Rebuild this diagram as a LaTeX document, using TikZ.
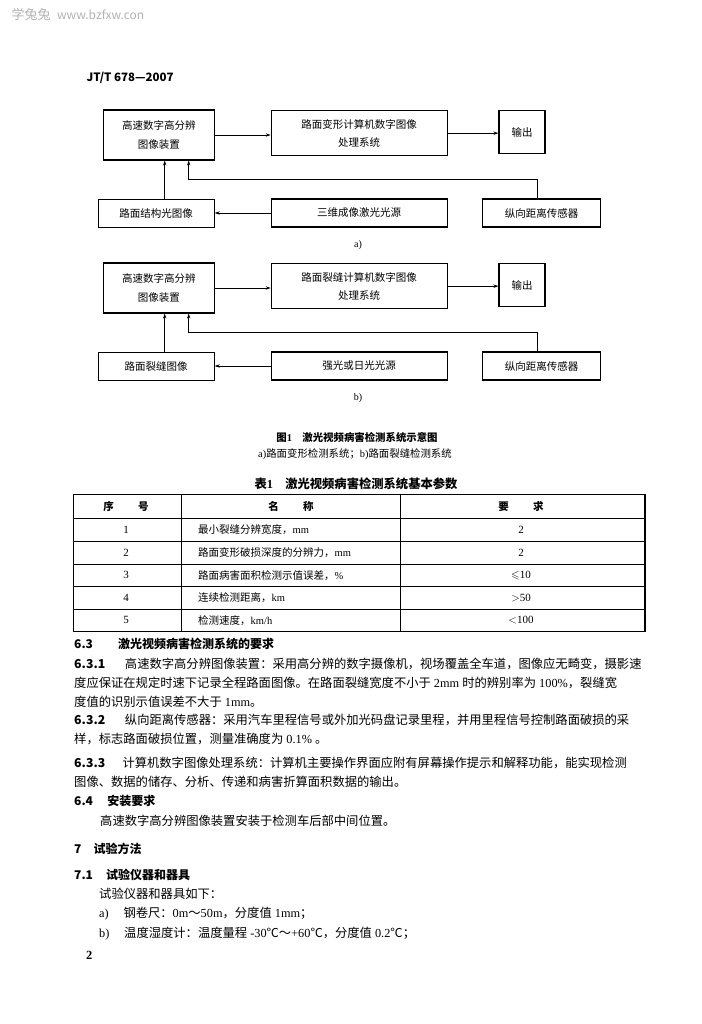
\documentclass[tikz,border=0pt]{standalone}
\usepackage{amssymb}
\usepackage{fontspec}
\setmainfont{Noto Sans CJK SC}
\newfontfamily\lat{Liberation Serif}
\usetikzlibrary{arrows.meta,positioning,calc}

\begin{document}
\begin{tikzpicture}[x=1pt,y=-1pt,
    box/.style={draw,line width=1.1pt,inner sep=0pt,align=center,
      font=\fontsize{10.5}{18.3}\selectfont},
    arr/.style={line width=0.7pt,-{Stealth[length=5pt,width=3.4pt]}},
    body/.style={anchor=west,inner sep=0pt,font=\fontsize{12.3}{14}\selectfont},
    head/.style={anchor=west,inner sep=0pt,font=\fontsize{12}{14}\selectfont\bfseries},
    cell/.style={inner sep=0pt,font=\fontsize{10.5}{12}\selectfont}]
  \useasboundingbox (0,0) rectangle (701,1024);

  % page head
  \node[anchor=west,text=gray!60,font=\fontsize{13}{15}\selectfont] (wm) at (8,15)
    {学兔兔\hspace{0.5em}{\fontsize{12}{14}\selectfont www.bzfxw.con}};
  \node[anchor=west,font=\fontsize{11.5}{13}\selectfont\bfseries] (std) at (83,78)
    {JT/T 678—2007};

  % figure a)
  \node[box,minimum width=111pt,minimum height=50pt] (a1) at (158.8,135)
    {高速数字高分辨\\图像装置};
  \node[box,minimum width=176pt,minimum height=45pt] (a2) at (359.2,133.2)
    {路面变形计算机数字图像\\处理系统};
  \node[box,minimum width=46pt,minimum height=43pt] (a3) at (522,132.4) {输出};
  \node[box,minimum width=116pt,minimum height=28pt] (a4) at (156.2,213.2) {路面结构光图像};
  \node[box,minimum width=176pt,minimum height=28pt] (a5) at (359.2,213) {三维成像激光光源};
  \node[box,minimum width=118pt,minimum height=28pt] (a6) at (541.5,213) {纵向距离传感器};
  \coordinate (a-bend) at (188.7,179.3);
  \draw[arr] (a1.east) -- (a1.east -| a2.west);
  \draw[arr] (a2.east) -- (a2.east -| a3.west);
  \draw[arr] (a5.west) -- (a5.west -| a4.east);
  \draw[arr] ([xshift=8.5pt]a4.north) -- ([xshift=8.5pt]a4.north |- a1.south);
  \draw[arr] ([xshift=-3.8pt]a6.north) |- (a-bend) -- (a-bend |- a1.south);
  \node[font=\fontsize{10}{12}\selectfont\lat] (cap-a) at (358,245) {a)};

  % figure b)
  \node[box,minimum width=111pt,minimum height=50pt] (b1) at (158.8,288)
    {高速数字高分辨\\图像装置};
  \node[box,minimum width=176pt,minimum height=45pt] (b2) at (359.2,286.2)
    {路面裂缝计算机数字图像\\处理系统};
  \node[box,minimum width=46pt,minimum height=43pt] (b3) at (522,285.4) {输出};
  \node[box,minimum width=116pt,minimum height=28pt] (b4) at (156.2,366.2) {路面裂缝图像};
  \node[box,minimum width=176pt,minimum height=28pt] (b5) at (359.2,366) {强光或日光光源};
  \node[box,minimum width=118pt,minimum height=28pt] (b6) at (541.5,366) {纵向距离传感器};
  \coordinate (b-bend) at (188.7,332.3);
  \draw[arr] (b1.east) -- (b1.east -| b2.west);
  \draw[arr] (b2.east) -- (b2.east -| b3.west);
  \draw[arr] (b5.west) -- (b5.west -| b4.east);
  \draw[arr] ([xshift=8.5pt]b4.north) -- ([xshift=8.5pt]b4.north |- b1.south);
  \draw[arr] ([xshift=-3.8pt]b6.north) |- (b-bend) -- (b-bend |- b1.south);
  \node[font=\fontsize{10}{12}\selectfont\lat] (cap-b) at (358,398) {b)};

  % captions
  \node[font=\fontsize{10.4}{12}\selectfont\bfseries] (fig-title) at (357,438)
    {图{\lat 1}\hspace{1em}激光视频病害检测系统示意图};
  \node[font=\fontsize{10.4}{12}\selectfont] (fig-sub) at (355,454)
    {{\lat a)}路面变形检测系统；{\lat b)}路面裂缝检测系统};
  \node[font=\fontsize{12.3}{14}\selectfont\bfseries] (tab-title) at (356,484)
    {表{\lat 1}\hspace{1em}激光视频病害检测系统基本参数};

  % table 1
  \draw[line width=1.2pt] (73.3,494.5) rectangle (645,631.7);
  \foreach \y in {518.3,541.7,564,586.7,609}
    \draw[line width=0.6pt] (73.3,\y) -- (645,\y);
  \foreach \x in {181.7,400}
    \draw[line width=0.6pt] (\x,494.5) -- (\x,631.7);
  \node[cell,font=\fontsize{10.5}{12}\selectfont\bfseries] (h-no) at (126,506.5) {序\hspace{2.3em}号};
  \node[cell,font=\fontsize{10.5}{12}\selectfont\bfseries] (h-name) at (291,506.5) {名\hspace{2.3em}称};
  \node[cell,font=\fontsize{10.5}{12}\selectfont\bfseries] (h-val) at (521,506.5) {要\hspace{2.3em}求};
  \foreach \i/\y/\nm/\val in {
      1/530/{最小裂缝分辨宽度，{\lat mm}}/2,
      2/552.9/{路面变形破损深度的分辨力，{\lat mm}}/2,
      3/575.4/{路面病害面积检测示值误差，{\lat \%}}/{$\leqslant$10},
      4/597.9/{连续检测距离，{\lat km}}/{$>$50},
      5/620.4/{检测速度，{\lat km/h}}/{$<$100}} {
    \node[cell,font=\fontsize{11}{12}\selectfont\lat] (no-\i) at (126,\y) {\i};
    \node[cell,anchor=west] (name-\i) at (198,\y) {\nm};
    \node[cell,font=\fontsize{11}{12}\selectfont\lat] (val-\i) at (521,\y) {\val};
  }

  % clause 6.3
  \node[head] (s63) at (74,644) {6.3\hspace{2.1em}激光视频病害检测系统的要求};
  \node[body] (l1) at (74,664)
    {{\bfseries 6.3.1}\hspace{1.6em}高速数字高分辨图像装置：采用高分辨的数字摄像机，视场覆盖全车道，图像应无畸变，摄影速};
  \node[body] (l2) at (74,683)
    {度应保证在规定时速下记录全程路面图像。在路面裂缝宽度不小于{\lat\ 2mm }时的辨别率为{\lat\ 100\%}，裂缝宽};
  \node[body] (l3) at (74,702) {度值的识别示值误差不大于{\lat\ 1mm}。};
  \node[body] (l4) at (74,720)
    {{\bfseries 6.3.2}\hspace{1.6em}纵向距离传感器：采用汽车里程信号或外加光码盘记录里程，并用里程信号控制路面破损的采};
  \node[body] (l5) at (74,739) {样，标志路面破损位置，测量准确度为{\lat\ 0.1\% }。};
  \node[body] (l6) at (74,763)
    {{\bfseries 6.3.3}\hspace{1.4em}计算机数字图像处理系统：计算机主要操作界面应附有屏幕操作提示和解释功能，能实现检测};
  \node[body] (l7) at (74,782) {图像、数据的储存、分析、传递和病害折算面积数据的输出。};

  % clause 6.4 and 7
  \node[head] (s64) at (74,801) {6.4\hspace{1.2em}安装要求};
  \node[body] (l8) at (100,821) {高速数字高分辨图像装置安装于检测车后部中间位置。};
  \node[head] (s7) at (74,849) {7\hspace{1em}试验方法};
  \node[head] (s71) at (74,875) {7.1\hspace{1.1em}试验仪器和器具};
  \node[body] (l9) at (99,894) {试验仪器和器具如下：};
  \node[body] (l10) at (99,914) {{\lat a)}\hspace{1.2em}钢卷尺：{\lat 0m}～{\lat 50m}，分度值{\lat\ 1mm}；};
  \node[body] (l11) at (99,934)
    {{\lat b)}\hspace{1.2em}温度湿度计：温度量程{\lat\ -30}℃～{\lat +60}℃，分度值{\lat\ 0.2}℃；};
  \node[anchor=west,inner sep=0pt,font=\fontsize{12.5}{14}\selectfont\lat\bfseries] (pg) at (86,955) {2};
\end{tikzpicture}
\end{document}
